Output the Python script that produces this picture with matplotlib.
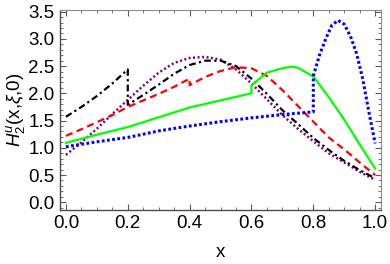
import numpy as np
import matplotlib
matplotlib.use("Agg")
import matplotlib.pyplot as plt
from matplotlib.ticker import MultipleLocator

plt.rcParams['font.family'] = ['Liberation Sans', 'DejaVu Sans']
plt.rcParams['mathtext.fontset'] = 'custom'
plt.rcParams['mathtext.rm'] = 'Liberation Sans'
plt.rcParams['mathtext.it'] = 'Liberation Sans:italic'

# purple dotted (no jump)
x_purple = [0.0, 0.05, 0.1, 0.15, 0.2, 0.25, 0.3, 0.35, 0.4, 0.45, 0.5, 0.55, 0.6,
            0.65, 0.7, 0.75, 0.8, 0.85, 0.9, 0.95, 1.0]
y_purple = [0.87, 1.10, 1.35, 1.62, 1.88, 2.14, 2.38, 2.56, 2.65, 2.67, 2.62, 2.44, 2.18,
            1.89, 1.60, 1.35, 1.12, 0.90, 0.73, 0.56, 0.41]

# black dot-dashed, jump at x = 0.2
x_black = [0.0, 0.05, 0.1, 0.15, 0.2, 0.2, 0.25, 0.3, 0.35, 0.4, 0.45, 0.5, 0.55, 0.6,
           0.65, 0.7, 0.75, 0.8, 0.85, 0.9, 0.95, 1.0]
y_black = [1.57, 1.75, 1.95, 2.18, 2.44, 1.79, 1.97, 2.16, 2.36, 2.52, 2.60, 2.60, 2.50, 2.27,
           1.99, 1.69, 1.44, 1.18, 0.96, 0.76, 0.59, 0.44]

# red dashed, jump at x = 0.4
x_red = [0.0, 0.05, 0.1, 0.15, 0.2, 0.25, 0.3, 0.35, 0.4, 0.4, 0.45, 0.5, 0.55, 0.6,
         0.65, 0.7, 0.75, 0.8, 0.85, 0.9, 0.95, 1.0]
y_red = [1.22, 1.34, 1.47, 1.60, 1.75, 1.87, 1.99, 2.12, 2.27, 2.15, 2.30, 2.41, 2.48, 2.46,
         2.32, 2.06, 1.77, 1.48, 1.19, 0.97, 0.73, 0.50]

# green solid, jump at x = 0.6
x_green = [0.0, 0.1, 0.2, 0.3, 0.4, 0.5, 0.6, 0.6, 0.65, 0.7, 0.73, 0.75, 0.8,
           0.85, 0.9, 0.95, 1.0]
y_green = [1.09, 1.24, 1.38, 1.56, 1.74, 1.87, 2.00, 2.15, 2.38, 2.46, 2.49, 2.47, 2.31,
           1.93, 1.52, 1.06, 0.62]

# blue dotted, jump at x = 0.8
x_blue = [0.0, 0.1, 0.2, 0.3, 0.4, 0.5, 0.6, 0.7, 0.8, 0.8, 0.82, 0.84, 0.86, 0.88,
          0.9, 0.92, 0.94, 0.96, 0.98, 1.0]
y_blue = [1.02, 1.11, 1.19, 1.31, 1.40, 1.48, 1.55, 1.61, 1.66, 2.32, 2.70, 3.00, 3.25, 3.34,
          3.27, 3.05, 2.73, 2.26, 1.65, 1.08]

fig = plt.figure(figsize=(3.9, 2.64), dpi=100)
ax = fig.add_axes([0.154, 0.205, 0.823, 0.757])

ax.plot(x_purple, y_purple, color=(0.5, 0, 0.5), lw=1.8, ls=(0, (0.8, 1.0)))
ax.plot(x_black, y_black, color='black', lw=1.6, ls=(0, (3, 1.5, 1, 1.5)))
ax.plot(x_red, y_red, color='red', lw=1.6, ls=(0, (3.2, 2)))
ax.plot(x_green, y_green, color=(0, 1, 0), lw=1.6)
ax.plot(x_blue, y_blue, color='blue', lw=2.2, ls=(0, (0.9, 0.8)))

ax.set_xlim(-0.019, 1.019)
ax.set_ylim(-0.14, 3.53)
ax.xaxis.set_major_locator(MultipleLocator(0.2))
ax.xaxis.set_minor_locator(MultipleLocator(0.05))
ax.yaxis.set_major_locator(MultipleLocator(0.5))
ax.yaxis.set_minor_locator(MultipleLocator(0.1))
ax.tick_params(which='both', direction='in', top=True, right=True, colors='0.35',
               labelcolor='black', labelsize=13.5, pad=4)
ax.tick_params(which='major', length=4, width=0.8)
ax.tick_params(which='minor', length=2, width=0.6)
ax.xaxis.set_major_formatter(matplotlib.ticker.FormatStrFormatter('%.1f'))
ax.yaxis.set_major_formatter(matplotlib.ticker.FormatStrFormatter('%.1f'))
for side in ['left', 'bottom']:
    ax.spines[side].set_color('0.3')
    ax.spines[side].set_linewidth(1.0)
for side in ['top', 'right']:
    ax.spines[side].set_color('0.55')
    ax.spines[side].set_linewidth(0.8)

ax.set_xlabel('x', fontsize=13.5, labelpad=8)
ax.set_ylabel(r'$\mathit{H}_2^u$(x,$\mathit{\xi}$,0)', fontsize=13.5, labelpad=1)

fig.savefig('out.png', dpi=100)
